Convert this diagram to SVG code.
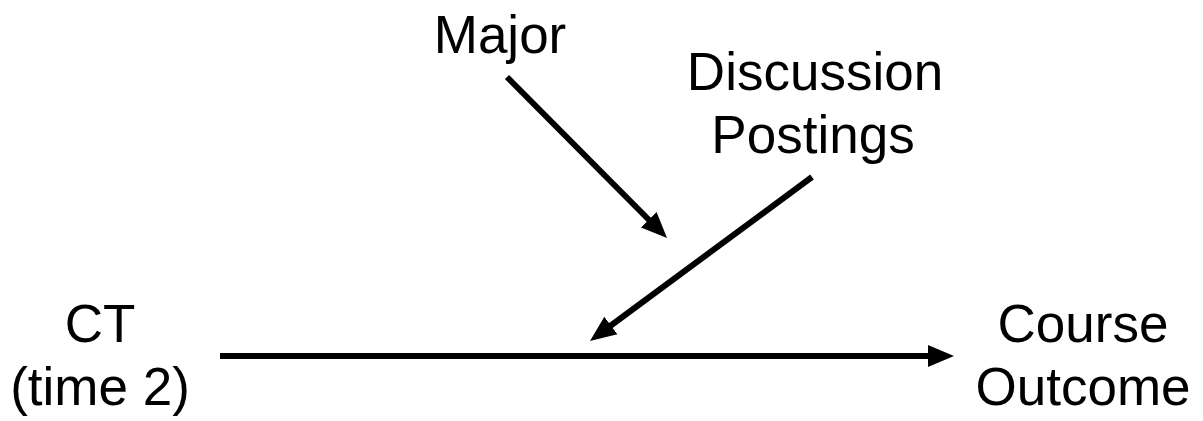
<svg xmlns="http://www.w3.org/2000/svg" width="1203" height="421" viewBox="0 0 1203 421">
<style>
text{font-family:"Liberation Sans",Arial,sans-serif;font-size:53px;fill:#000;text-anchor:middle}
.c{stroke:#000;stroke-width:6;fill:none}
</style>
<defs>
<marker id="ah" markerUnits="userSpaceOnUse" markerWidth="26" markerHeight="26" viewBox="0 0 26 26" refX="16" refY="13" orient="auto">
<path d="M0,2 L26,13 L0,24 Z" fill="#000"/>
</marker>
</defs>
<rect width="1203" height="421" fill="#fff"/>
<g id="connectors">
<line class="c" x1="220" y1="356" x2="944" y2="356" marker-end="url(#ah)"/>
<line class="c" x1="507" y1="77" x2="660" y2="231" marker-end="url(#ah)"/>
<line class="c" x1="812" y1="177" x2="598" y2="335" marker-end="url(#ah)"/>
</g>
<g id="ct"><text x="100" y="342">CT</text><text x="100" y="405">(time 2)</text></g>
<g id="major"><text x="500" y="53">Major</text></g>
<g id="discussion"><text x="815" y="90">Discussion</text><text x="813" y="153">Postings</text></g>
<g id="outcome"><text x="1083" y="342">Course</text><text x="1083" y="405">Outcome</text></g>
</svg>
